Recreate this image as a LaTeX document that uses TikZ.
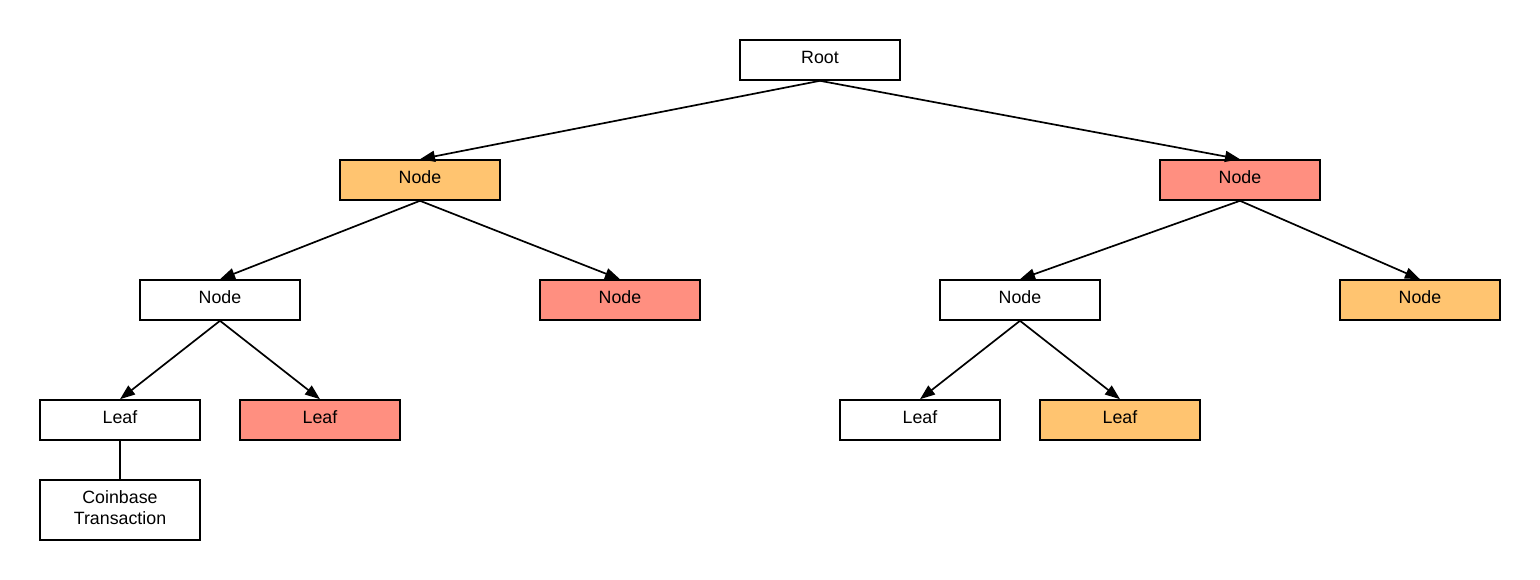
\documentclass[tikz,border=0pt]{standalone}
\usepackage{fontspec}
\setmainfont{Liberation Sans}
\usetikzlibrary{arrows.meta}
\definecolor{orangefill}{HTML}{FFC470}
\definecolor{redfill}{HTML}{FF8F80}
\begin{document}
\begin{tikzpicture}[x=1pt,y=-1pt,
  boxbase/.style={draw=black,line width=1.6pt,minimum width=160pt,inner sep=0pt,font=\fontsize{17.8}{21}\selectfont,align=center},
  box/.style={boxbase,minimum height=40pt,text height=13pt,text depth=6.5pt},
  obox/.style={box,fill=orangefill},
  rbox/.style={box,fill=redfill},
  conn/.style={line width=1.7pt,-{Triangle[length=15pt,width=11pt]}}]
\useasboundingbox (0,0) rectangle (1540,580);
\node[box] (root) at (820,60) {Root};
\node[obox] (n1) at (420,180) {Node};
\node[rbox] (n2) at (1240,180) {Node};
\node[box] (n11) at (220,300) {Node};
\node[rbox] (n12) at (620,300) {Node};
\node[box] (n21) at (1020,300) {Node};
\node[obox] (n22) at (1420,300) {Node};
\node[box] (l1) at (120,420) {Leaf};
\node[rbox] (l2) at (320,420) {Leaf};
\node[box] (l3) at (920,420) {Leaf};
\node[obox] (l4) at (1120,420) {Leaf};
\node[boxbase,minimum height=60pt] (cb) at (120,510) {\raisebox{2pt}{\begin{tabular}{@{}c@{}}Coinbase\\Transaction\end{tabular}}};
\draw[conn] (root.south) -- (n1.north);
\draw[conn] (root.south) -- (n2.north);
\draw[conn] (n1.south) -- (n11.north);
\draw[conn] (n1.south) -- (n12.north);
\draw[conn] (n2.south) -- (n21.north);
\draw[conn] (n2.south) -- (n22.north);
\draw[conn] (n11.south) -- (l1.north);
\draw[conn] (n11.south) -- (l2.north);
\draw[conn] (n21.south) -- (l3.north);
\draw[conn] (n21.south) -- (l4.north);
\draw[line width=1.7pt] (l1.south) -- (cb.north);
\end{tikzpicture}
\end{document}
